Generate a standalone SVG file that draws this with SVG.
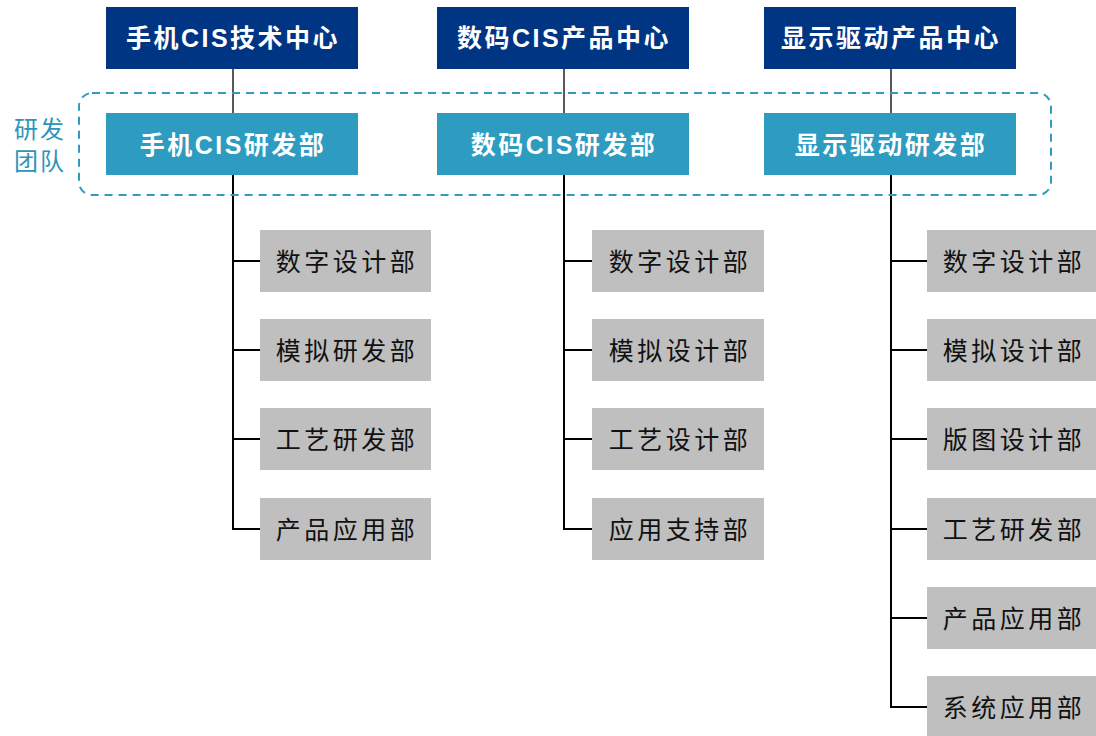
<svg xmlns="http://www.w3.org/2000/svg" width="1096" height="736" viewBox="0 0 1096 736">
<style>
.top{fill:#003584}
.mid{fill:#2E9BC0}
.dep{fill:#BFBFBF}
.tw{font-family:"Liberation Sans","Noto Sans CJK SC",sans-serif;font-weight:bold;font-size:25px;fill:#fff;text-anchor:middle;dominant-baseline:central;letter-spacing:2.5px}
.td{font-family:"Liberation Serif","Noto Sans CJK SC",serif;font-size:25px;fill:#111;text-anchor:middle;dominant-baseline:central;letter-spacing:3.5px}
.tl{font-family:"Noto Sans CJK SC",sans-serif;font-size:24px;fill:#2E94B9;text-anchor:middle;letter-spacing:2px}
.ln{stroke:#000;stroke-width:2;fill:none}
.thin{stroke:#000;stroke-width:1.3;fill:none}
</style>
<g id="connectors">
<line class="thin" x1="233" y1="69" x2="233" y2="113"/>
<line class="thin" x1="564" y1="69" x2="564" y2="113"/>
<line class="thin" x1="891" y1="69" x2="891" y2="113"/>
<polyline class="ln" points="233,175 233,529 260,529"/>
<line class="ln" x1="233" y1="261" x2="260" y2="261"/>
<line class="ln" x1="233" y1="350" x2="260" y2="350"/>
<line class="ln" x1="233" y1="439" x2="260" y2="439"/>
<polyline class="ln" points="564,175 564,529 592,529"/>
<line class="ln" x1="564" y1="261" x2="592" y2="261"/>
<line class="ln" x1="564" y1="350" x2="592" y2="350"/>
<line class="ln" x1="564" y1="439" x2="592" y2="439"/>
<polyline class="ln" points="891,175 891,707 927,707"/>
<line class="ln" x1="891" y1="261" x2="927" y2="261"/>
<line class="ln" x1="891" y1="350" x2="927" y2="350"/>
<line class="ln" x1="891" y1="439" x2="927" y2="439"/>
<line class="ln" x1="891" y1="529" x2="927" y2="529"/>
<line class="ln" x1="891" y1="618" x2="927" y2="618"/>
</g>
<g id="team">
<rect x="79" y="93" width="972" height="102" rx="13" fill="none" stroke="#2E9BC0" stroke-width="2" stroke-dasharray="8,6"/>
<text class="tl" x="40" y="138"><tspan x="40" y="138">研发</tspan><tspan x="40" y="170">团队</tspan></text>
</g>
<g id="c1"><rect class="top" x="106" y="7" width="252" height="62"/><text class="tw" x="233" y="38">手机CIS技术中心</text></g>
<g id="c2"><rect class="top" x="437" y="7" width="252" height="62"/><text class="tw" x="564" y="38">数码CIS产品中心</text></g>
<g id="c3"><rect class="top" x="764" y="7" width="252" height="62"/><text class="tw" x="891" y="38">显示驱动产品中心</text></g>
<g id="r1"><rect class="mid" x="106" y="113" width="252" height="62"/><text class="tw" x="233" y="145">手机CIS研发部</text></g>
<g id="r2"><rect class="mid" x="437" y="113" width="252" height="62"/><text class="tw" x="564" y="145">数码CIS研发部</text></g>
<g id="r3"><rect class="mid" x="764" y="113" width="252" height="62"/><text class="tw" x="891" y="145">显示驱动研发部</text></g>
<g id="a1"><rect class="dep" x="260" y="230" width="171" height="62"/><text class="td" x="347" y="262">数字设计部</text></g>
<g id="a2"><rect class="dep" x="260" y="319" width="171" height="62"/><text class="td" x="347" y="351">模拟研发部</text></g>
<g id="a3"><rect class="dep" x="260" y="408" width="171" height="62"/><text class="td" x="347" y="440">工艺研发部</text></g>
<g id="a4"><rect class="dep" x="260" y="498" width="171" height="62"/><text class="td" x="347" y="530">产品应用部</text></g>
<g id="b1"><rect class="dep" x="592" y="230" width="172" height="62"/><text class="td" x="680" y="262">数字设计部</text></g>
<g id="b2"><rect class="dep" x="592" y="319" width="172" height="62"/><text class="td" x="680" y="351">模拟设计部</text></g>
<g id="b3"><rect class="dep" x="592" y="408" width="172" height="62"/><text class="td" x="680" y="440">工艺设计部</text></g>
<g id="b4"><rect class="dep" x="592" y="498" width="172" height="62"/><text class="td" x="680" y="530">应用支持部</text></g>
<g id="d1"><rect class="dep" x="927" y="230" width="169" height="62"/><text class="td" x="1014" y="262">数字设计部</text></g>
<g id="d2"><rect class="dep" x="927" y="319" width="169" height="62"/><text class="td" x="1014" y="351">模拟设计部</text></g>
<g id="d3"><rect class="dep" x="927" y="408" width="169" height="62"/><text class="td" x="1014" y="440">版图设计部</text></g>
<g id="d4"><rect class="dep" x="927" y="498" width="169" height="62"/><text class="td" x="1014" y="530">工艺研发部</text></g>
<g id="d5"><rect class="dep" x="927" y="587" width="169" height="62"/><text class="td" x="1014" y="619">产品应用部</text></g>
<g id="d6"><rect class="dep" x="927" y="676" width="169" height="62"/><text class="td" x="1014" y="708">系统应用部</text></g>
</svg>
